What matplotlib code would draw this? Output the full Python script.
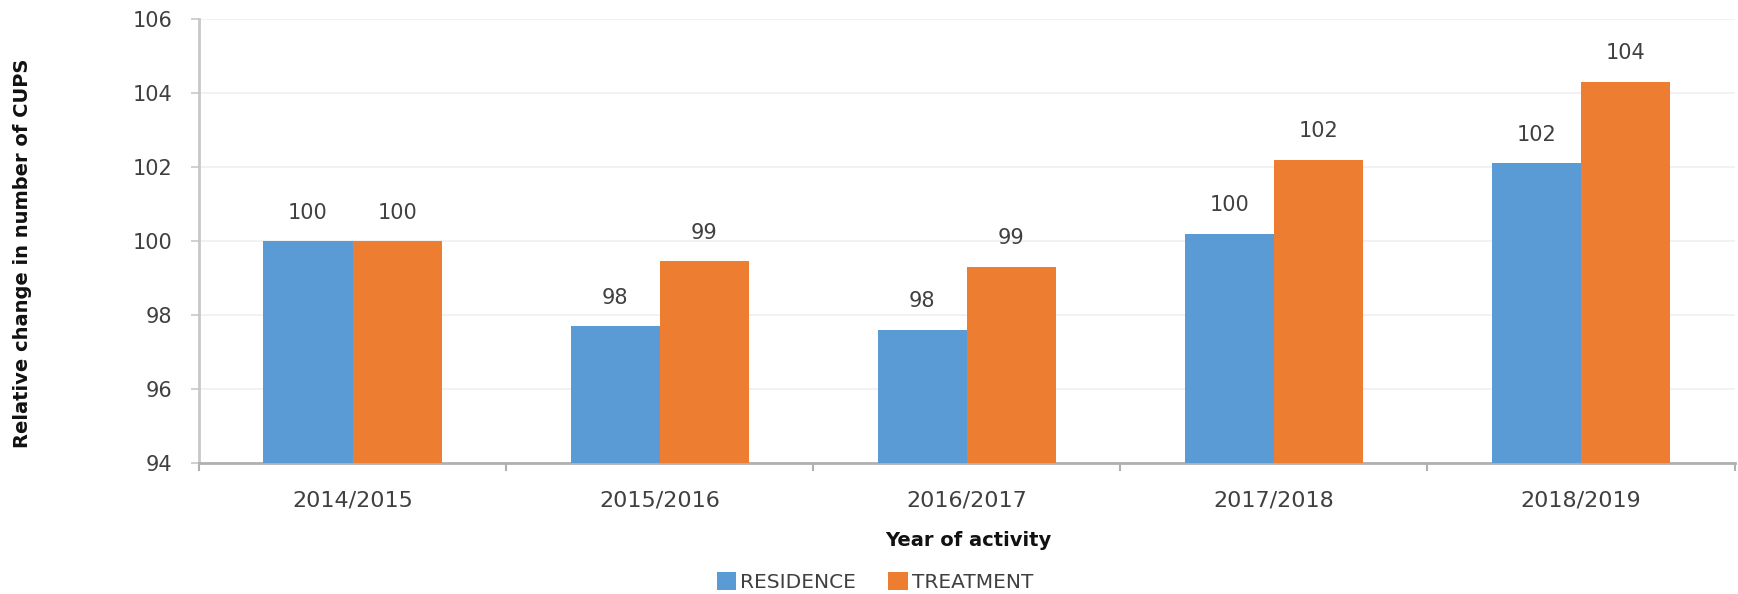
import numpy as np
import matplotlib
matplotlib.use("Agg")
import matplotlib.pyplot as plt

years = ["2014/2015", "2015/2016", "2016/2017", "2017/2018", "2018/2019"]
residence = [100.0, 97.7, 97.6, 100.2, 102.1]
treatment = [100.0, 99.45, 99.3, 102.2, 104.3]
res_labels = ["100", "98", "98", "100", "102"]
trt_labels = ["100", "99", "99", "102", "104"]

plt.rcParams['font.family'] = ['DejaVu Sans']

fig = plt.figure(figsize=(17.38, 5.94), dpi=100)
ax = fig.add_axes([0.1145, 0.2205, 0.8835, 0.7475])

x = np.arange(len(years))
w = 0.29
blue = "#5B9BD5"
orange = "#ED7D31"
txt = "#404040"
b1 = ax.bar(x - w / 2, np.array(residence) - 94, w, bottom=94, color=blue, label="RESIDENCE", zorder=3)
b2 = ax.bar(x + w / 2, np.array(treatment) - 94, w, bottom=94, color=orange, label="TREATMENT", zorder=3)

for rect, lab in zip(b1, res_labels):
    ax.text(rect.get_x() + rect.get_width() / 2, rect.get_y() + rect.get_height() + 0.5, lab,
            ha="center", va="bottom", fontsize=15, color=txt)
for rect, lab in zip(b2, trt_labels):
    ax.text(rect.get_x() + rect.get_width() / 2, rect.get_y() + rect.get_height() + 0.5, lab,
            ha="center", va="bottom", fontsize=15, color=txt)

ax.set_xlim(-0.5, len(years) - 0.5)
ax.set_ylim(94, 106)
ax.set_yticks(np.arange(94, 107, 2))
ax.set_xticks(x)
ax.set_xticklabels(years)
ax.set_xticks(np.arange(-0.5, len(years)), minor=True)
ax.tick_params(axis="x", which="major", length=0, pad=20, labelsize=16, labelcolor=txt)
ax.tick_params(axis="x", which="minor", length=6, color="#b0b0b0", width=1.5)
ax.tick_params(axis="y", length=6, color="#c8c8c8", width=1.2, labelsize=15, labelcolor=txt, pad=13)

ax.grid(axis="y", color="#f0f0f0", linewidth=1.2, zorder=0)
for s in ["top", "right"]:
    ax.spines[s].set_visible(False)
ax.spines["left"].set_color("#c8c8c8")
ax.spines["left"].set_linewidth(2)
ax.spines["bottom"].set_color("#b0b0b0")
ax.spines["bottom"].set_linewidth(2)

fig.text(0.013, 0.574, "Relative change in number of CUPS", rotation=90, ha="center", va="center",
         fontsize=14, fontweight="bold", color="#111111")
fig.text(0.557, 0.09, "Year of activity", ha="center", va="center",
         fontsize=14, fontweight="bold", color="#111111")

fig.legend(handles=[b1, b2], loc="center", bbox_to_anchor=(0.5035, 0.02), ncol=2, frameon=False,
           fontsize=14.5, handlelength=0.95, handleheight=0.95, handletextpad=0.2, columnspacing=1.6,
           labelcolor=txt, borderpad=0.1)

fig.savefig("out.png", dpi=100)
